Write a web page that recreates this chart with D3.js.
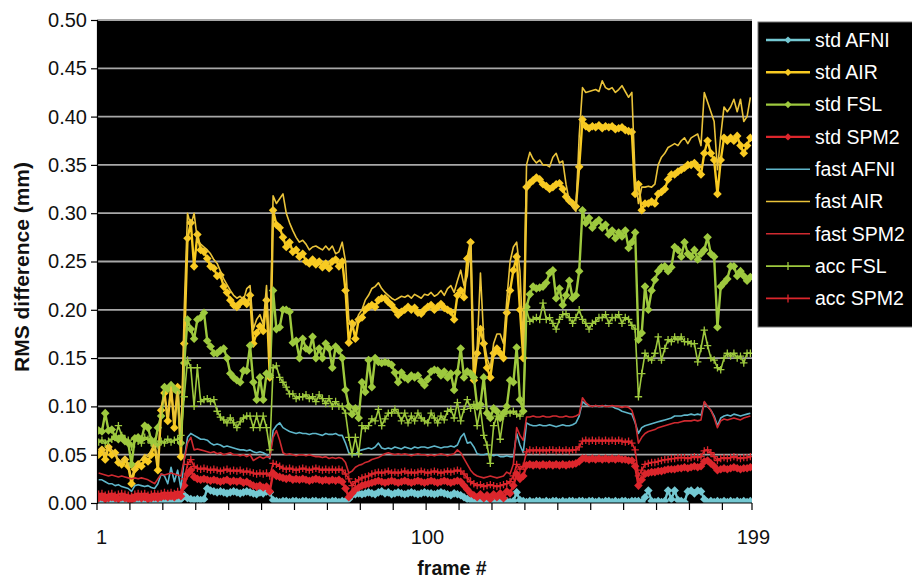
<!DOCTYPE html>
<html>
<head>
<meta charset="utf-8">
<script src="https://cdnjs.cloudflare.com/ajax/libs/d3/7.8.5/d3.min.js"></script>
<style>
  body { margin: 0; background: #fff; }
  svg text { font-family: "Liberation Sans", Arial, Helvetica, sans-serif; }
</style>
</head>
<body>
<svg id="chart" width="912" height="580"></svg>
<script>
// frame numbers 1..199
var frames = d3.range(1, 200)
var yTicks = [0, 0.05, 0.10, 0.15, 0.20, 0.25, 0.30, 0.35, 0.40, 0.45, 0.50]
var xLabels = [1, 100, 199]

var stdAFNI = [
  0.002,0.003,0.002,0.001,0.002,0.003,0.002,0.001,0.002,0.002, 0.001,0.002,0.003,0.002,0.001,0.002,0.002,0.001,0.002,0.003, 0.002,0.002,0.003,0.002,0.002,0.004,0.008,
  0.005,0.004,0.003,0.004,0.003,0.004,0.015,0.013,0.012,0.011, 0.012,0.011,0.010,0.011,0.012,0.011,0.010,0.011,0.012,0.011, 0.010,0.009,0.011,0.010,0.012,0.011,
  0.003,0.002,0.001,0.002,0.002,0.001,0.002,0.002,0.001,0.002, 0.002,0.001,0.002,0.002,0.001,0.002,0.002,0.001,0.002,0.002, 0.001,0.002,0.002,
  0.004,0.008,0.009,0.010,0.009,0.010,0.011,0.010,0.009,0.011, 0.012,0.010,0.011,0.009,0.010,0.011,0.010,0.009,0.010,0.011, 0.010,0.009,0.010,0.011,
  0.010,0.010,0.009,0.010,0.011,0.010,0.009,0.008,0.010,0.009,0.008,0.006,0.004,
  0.003,0.002,0.001,0.002,0.001,0.002,0.001,0.002,0.001,0.002, 0.001,0.002,0.001,0.002,0.011,0.003,0.002,
  0.001,0.002,0.001,0.002,0.002,0.001,0.002,0.001,0.002,0.002, 0.001,0.002,0.001,0.002,0.002,0.001,0.002,
  0.002,0.001,0.002,0.002,0.001,0.002,0.001,0.002,0.002,0.001, 0.002,0.001,0.002,0.002,0.001,0.002,0.002,
  0.002,0.001,0.006,0.013,0.002,0.001,0.002,0.001,0.002,0.013, 0.004,0.013,0.003,0.002,0.001,0.012,0.013,0.010,0.013,0.012, 0.004,0.001,0.002,0.001,0.002,0.001,0.002,0.001,0.002,0.001, 0.002,0.001,0.002,0.001,0.002
]

var stdAIR = [
  0.050,0.055,0.045,0.058,0.050,0.052,0.042,0.040,0.045,0.038, 0.020,0.035,0.040,0.038,0.045,0.043,0.050,0.060,0.034,0.096, 0.114,0.085,0.120,0.078,0.120,0.048,0.165,
  0.274,0.290,0.245,0.278,0.262,0.260,0.253,0.245,0.243,0.235, 0.236,0.224,0.218,0.210,0.205,0.203,0.207,0.210,0.206,0.215, 0.165,0.176,0.183,0.178,0.210,0.130,
  0.303,0.288,0.285,0.275,0.265,0.270,0.260,0.262,0.255,0.258, 0.250,0.248,0.252,0.247,0.250,0.244,0.248,0.243,0.250,0.252, 0.245,0.250,0.220,
  0.166,0.186,0.170,0.190,0.192,0.200,0.203,0.205,0.203,0.210, 0.212,0.212,0.208,0.205,0.200,0.195,0.198,0.200,0.203,0.200, 0.202,0.197,0.196,0.200,
  0.203,0.205,0.200,0.203,0.206,0.202,0.200,0.198,0.190,0.215,0.220,0.213,0.253,
  0.270,0.127,0.155,0.180,0.165,0.140,0.130,0.155,0.160,0.155, 0.150,0.197,0.220,0.241,0.255,0.200,0.150,
  0.327,0.331,0.334,0.337,0.335,0.330,0.328,0.325,0.327,0.330, 0.331,0.325,0.317,0.313,0.310,0.307,0.348,
  0.397,0.390,0.388,0.390,0.389,0.391,0.388,0.390,0.389,0.390, 0.387,0.388,0.389,0.386,0.385,0.384,0.320,
  0.330,0.303,0.310,0.310,0.312,0.310,0.320,0.322,0.325,0.335, 0.340,0.340,0.343,0.345,0.347,0.350,0.350,0.352,0.348,0.340, 0.362,0.375,0.362,0.355,0.320,0.355,0.378,0.375,0.378,0.375, 0.380,0.370,0.362,0.370,0.378
]

var stdFSL = [
  0.075,0.074,0.093,0.075,0.076,0.068,0.066,0.068,0.064,0.062, 0.040,0.067,0.068,0.066,0.080,0.078,0.065,0.060,0.078,0.090, 0.120,0.118,0.122,0.118,0.115,0.062,0.145,
  0.190,0.180,0.170,0.190,0.192,0.197,0.168,0.162,0.155,0.155, 0.158,0.160,0.150,0.134,0.130,0.127,0.125,0.137,0.137,0.163, 0.125,0.107,0.130,0.107,0.134,0.132,
  0.220,0.180,0.182,0.200,0.200,0.198,0.166,0.168,0.150,0.170, 0.160,0.158,0.172,0.150,0.160,0.150,0.165,0.160,0.140,0.162, 0.158,0.150,0.117,
  0.100,0.092,0.098,0.088,0.125,0.115,0.148,0.120,0.150,0.146, 0.145,0.146,0.145,0.143,0.135,0.125,0.135,0.130,0.128,0.132, 0.130,0.132,0.126,0.122,
  0.128,0.136,0.138,0.137,0.132,0.136,0.130,0.134,0.117,0.135,0.160,0.130,0.136,
  0.134,0.130,0.100,0.102,0.130,0.093,0.088,0.098,0.095,0.088, 0.093,0.100,0.127,0.125,0.161,0.107,0.095,
  0.203,0.216,0.224,0.222,0.223,0.224,0.228,0.238,0.241,0.212, 0.222,0.205,0.215,0.230,0.212,0.215,0.240,
  0.303,0.290,0.295,0.285,0.290,0.293,0.285,0.288,0.278,0.282, 0.274,0.280,0.276,0.282,0.264,0.270,0.280,
  0.169,0.176,0.224,0.200,0.220,0.231,0.240,0.244,0.245,0.240, 0.244,0.265,0.262,0.255,0.270,0.258,0.255,0.262,0.252,0.258, 0.262,0.275,0.258,0.255,0.182,0.224,0.228,0.232,0.245,0.245, 0.235,0.240,0.235,0.230,0.234
]

var stdSPM2 = [
  0.005,0.006,0.004,0.005,0.006,0.005,0.004,0.006,0.005,0.004, 0.003,0.005,0.006,0.005,0.006,0.004,0.005,0.006,0.005,0.006, 0.007,0.006,0.007,0.006,0.008,0.007,0.018,
  0.030,0.034,0.027,0.025,0.024,0.025,0.024,0.023,0.024,0.023, 0.022,0.023,0.024,0.022,0.023,0.022,0.023,0.021,0.022,0.020, 0.018,0.017,0.018,0.016,0.017,0.012,
  0.031,0.028,0.027,0.026,0.025,0.026,0.024,0.025,0.024,0.025, 0.024,0.023,0.024,0.025,0.024,0.023,0.024,0.023,0.024,0.023, 0.024,0.022,0.015,
  0.006,0.010,0.014,0.016,0.018,0.019,0.020,0.021,0.022,0.023, 0.022,0.021,0.022,0.023,0.022,0.021,0.022,0.023,0.022,0.021, 0.022,0.023,0.022,0.021,
  0.022,0.023,0.022,0.021,0.022,0.023,0.022,0.021,0.022,0.023,0.022,0.018,0.014,
  0.010,0.008,0.006,0.009,0.005,0.008,0.004,0.009,0.006,0.010, 0.005,0.012,0.010,0.018,0.030,0.025,0.028,
  0.039,0.040,0.039,0.040,0.039,0.040,0.039,0.040,0.039,0.040, 0.039,0.040,0.039,0.040,0.040,0.041,0.043,
  0.046,0.046,0.045,0.046,0.045,0.046,0.045,0.046,0.045,0.046, 0.045,0.046,0.045,0.045,0.044,0.044,0.038,
  0.018,0.024,0.030,0.031,0.032,0.032,0.033,0.033,0.034,0.035, 0.035,0.035,0.036,0.036,0.037,0.036,0.037,0.038,0.037,0.038, 0.043,0.044,0.041,0.038,0.034,0.035,0.036,0.035,0.036,0.037, 0.036,0.035,0.036,0.036,0.037
]

var fastAFNI = [
  0.024,0.024,0.022,0.020,0.020,0.018,0.019,0.017,0.016,0.015, 0.012,0.018,0.019,0.018,0.017,0.018,0.016,0.015,0.020,0.030, 0.028,0.020,0.037,0.022,0.034,0.015,0.045,
  0.068,0.072,0.070,0.068,0.066,0.066,0.065,0.062,0.060,0.061, 0.060,0.058,0.059,0.058,0.057,0.056,0.055,0.055,0.054,0.055, 0.053,0.052,0.053,0.052,0.050,0.046,
  0.075,0.080,0.083,0.078,0.076,0.074,0.073,0.072,0.073,0.072, 0.072,0.071,0.072,0.072,0.071,0.070,0.072,0.071,0.071,0.072, 0.070,0.070,0.062,
  0.052,0.050,0.050,0.054,0.055,0.056,0.057,0.056,0.058,0.062, 0.057,0.056,0.057,0.056,0.058,0.057,0.056,0.058,0.057,0.056, 0.058,0.057,0.058,0.058,
  0.057,0.058,0.059,0.058,0.057,0.058,0.058,0.059,0.058,0.060,0.068,0.072,0.062,
  0.063,0.058,0.051,0.050,0.050,0.051,0.050,0.049,0.050,0.048, 0.048,0.049,0.048,0.048,0.072,0.060,0.052,
  0.083,0.081,0.080,0.080,0.081,0.080,0.080,0.081,0.080,0.079, 0.080,0.081,0.080,0.080,0.081,0.083,0.090,
  0.105,0.102,0.101,0.100,0.101,0.100,0.100,0.101,0.100,0.100, 0.098,0.097,0.095,0.094,0.093,0.092,0.083,
  0.072,0.078,0.080,0.081,0.082,0.083,0.084,0.085,0.086,0.087, 0.088,0.090,0.090,0.090,0.091,0.091,0.092,0.091,0.092,0.091, 0.104,0.100,0.096,0.090,0.080,0.088,0.090,0.091,0.090,0.092, 0.091,0.090,0.091,0.092,0.093
]

var fastAIR = [
  0.055,0.058,0.050,0.060,0.055,0.050,0.045,0.042,0.048,0.040, 0.025,0.038,0.042,0.045,0.050,0.048,0.055,0.062,0.040,0.100, 0.110,0.090,0.120,0.085,0.115,0.060,0.200,
  0.300,0.287,0.300,0.272,0.268,0.265,0.262,0.258,0.252,0.248, 0.240,0.232,0.226,0.220,0.215,0.212,0.214,0.210,0.222,0.225, 0.180,0.190,0.195,0.185,0.225,0.150,
  0.318,0.310,0.315,0.320,0.300,0.290,0.282,0.275,0.270,0.272, 0.268,0.262,0.265,0.266,0.264,0.262,0.266,0.262,0.266,0.258, 0.260,0.270,0.250,
  0.190,0.180,0.185,0.195,0.200,0.210,0.215,0.222,0.224,0.228, 0.222,0.218,0.215,0.212,0.210,0.212,0.214,0.213,0.215,0.212, 0.216,0.214,0.212,0.216,
  0.215,0.218,0.214,0.216,0.220,0.215,0.222,0.225,0.218,0.230,0.241,0.225,0.235,
  0.270,0.140,0.160,0.238,0.170,0.150,0.140,0.165,0.175,0.175, 0.165,0.210,0.250,0.265,0.270,0.240,0.160,
  0.350,0.363,0.356,0.352,0.355,0.350,0.350,0.348,0.358,0.362, 0.352,0.354,0.330,0.312,0.306,0.302,0.380,
  0.430,0.425,0.426,0.427,0.428,0.426,0.437,0.430,0.428,0.430, 0.425,0.428,0.432,0.426,0.420,0.425,0.337,
  0.310,0.327,0.327,0.328,0.327,0.330,0.350,0.358,0.362,0.368, 0.370,0.372,0.370,0.375,0.378,0.372,0.378,0.380,0.382,0.370, 0.425,0.415,0.405,0.395,0.345,0.380,0.410,0.405,0.410,0.418, 0.405,0.418,0.395,0.400,0.420
]

var fastSPM2 = [
  0.031,0.030,0.029,0.028,0.029,0.028,0.027,0.028,0.027,0.026, 0.025,0.026,0.025,0.026,0.025,0.024,0.022,0.020,0.025,0.030, 0.029,0.030,0.031,0.030,0.029,0.028,0.045,
  0.062,0.068,0.055,0.056,0.055,0.054,0.053,0.052,0.053,0.051, 0.052,0.050,0.051,0.052,0.050,0.050,0.049,0.050,0.048,0.050, 0.044,0.046,0.048,0.046,0.048,0.047,
  0.068,0.075,0.065,0.052,0.050,0.051,0.050,0.049,0.050,0.050, 0.049,0.050,0.049,0.048,0.048,0.047,0.048,0.046,0.047,0.046, 0.047,0.046,0.042,
  0.031,0.033,0.037,0.039,0.040,0.042,0.043,0.045,0.046,0.047, 0.049,0.051,0.052,0.051,0.050,0.051,0.050,0.051,0.050,0.049, 0.050,0.051,0.050,0.050,
  0.049,0.050,0.049,0.050,0.051,0.050,0.049,0.050,0.051,0.055,0.052,0.046,0.040,
  0.034,0.030,0.028,0.027,0.026,0.027,0.028,0.027,0.026,0.027, 0.028,0.032,0.030,0.040,0.078,0.070,0.065,
  0.089,0.089,0.090,0.089,0.089,0.090,0.089,0.089,0.090,0.090, 0.089,0.089,0.090,0.089,0.089,0.090,0.092,
  0.109,0.104,0.101,0.100,0.101,0.100,0.101,0.100,0.100,0.101, 0.100,0.100,0.099,0.100,0.099,0.096,0.085,
  0.062,0.068,0.072,0.074,0.075,0.076,0.078,0.079,0.080,0.081, 0.082,0.083,0.083,0.084,0.085,0.085,0.085,0.086,0.085,0.086, 0.105,0.100,0.096,0.088,0.078,0.085,0.087,0.086,0.087,0.088, 0.087,0.086,0.088,0.089,0.090
]

var accFSL = [
  0.063,0.065,0.062,0.064,0.066,0.068,0.080,0.070,0.066,0.065, 0.058,0.066,0.064,0.062,0.068,0.066,0.062,0.064,0.060,0.064, 0.062,0.066,0.063,0.065,0.066,0.070,0.110,
  0.148,0.140,0.100,0.140,0.105,0.107,0.108,0.105,0.107,0.095, 0.089,0.086,0.083,0.088,0.083,0.078,0.084,0.088,0.090,0.090, 0.078,0.090,0.078,0.090,0.078,0.055,
  0.140,0.142,0.130,0.125,0.120,0.113,0.113,0.108,0.110,0.110, 0.112,0.108,0.110,0.105,0.112,0.108,0.103,0.108,0.100,0.105, 0.100,0.100,0.093,
  0.068,0.051,0.068,0.051,0.080,0.077,0.080,0.087,0.085,0.097, 0.080,0.087,0.093,0.093,0.097,0.093,0.085,0.093,0.083,0.090, 0.085,0.093,0.088,0.085,
  0.083,0.093,0.088,0.083,0.090,0.086,0.095,0.097,0.088,0.104,0.085,0.097,0.107,
  0.098,0.102,0.080,0.098,0.070,0.060,0.041,0.080,0.090,0.066, 0.090,0.095,0.093,0.095,0.092,0.090,0.095,
  0.200,0.188,0.190,0.192,0.190,0.207,0.190,0.192,0.186,0.180, 0.190,0.195,0.196,0.192,0.186,0.192,0.200,
  0.190,0.186,0.180,0.186,0.188,0.192,0.192,0.195,0.186,0.192, 0.192,0.195,0.186,0.192,0.190,0.184,0.180,
  0.110,0.134,0.155,0.150,0.148,0.155,0.172,0.148,0.160,0.169, 0.167,0.172,0.169,0.172,0.167,0.167,0.165,0.165,0.146,0.160, 0.179,0.163,0.150,0.148,0.140,0.138,0.150,0.155,0.152,0.155, 0.150,0.152,0.145,0.155,0.155
]

var accSPM2 = [
  0.009,0.010,0.008,0.009,0.010,0.008,0.009,0.010,0.009,0.008, 0.007,0.009,0.010,0.009,0.010,0.008,0.009,0.010,0.009,0.010, 0.011,0.010,0.011,0.010,0.012,0.011,0.025,
  0.040,0.045,0.038,0.036,0.035,0.036,0.035,0.034,0.035,0.034, 0.033,0.034,0.035,0.033,0.034,0.033,0.034,0.032,0.033,0.032, 0.031,0.030,0.031,0.030,0.031,0.028,
  0.041,0.040,0.038,0.036,0.035,0.036,0.035,0.034,0.035,0.036, 0.035,0.034,0.035,0.036,0.035,0.034,0.035,0.034,0.035,0.034, 0.035,0.034,0.030,
  0.025,0.018,0.022,0.024,0.026,0.027,0.028,0.030,0.031,0.032, 0.031,0.032,0.033,0.031,0.032,0.031,0.032,0.033,0.031,0.032, 0.031,0.032,0.033,0.032,
  0.031,0.032,0.033,0.032,0.031,0.032,0.033,0.032,0.033,0.034,0.033,0.030,0.026,
  0.022,0.020,0.018,0.019,0.017,0.018,0.019,0.018,0.017,0.018, 0.019,0.020,0.022,0.028,0.040,0.035,0.038,
  0.053,0.055,0.054,0.055,0.054,0.055,0.054,0.055,0.055,0.054, 0.055,0.054,0.055,0.054,0.055,0.055,0.058,
  0.064,0.065,0.064,0.065,0.064,0.065,0.064,0.065,0.064,0.065, 0.064,0.065,0.064,0.063,0.064,0.062,0.055,
  0.028,0.034,0.040,0.041,0.042,0.042,0.043,0.044,0.045,0.045, 0.046,0.046,0.047,0.047,0.047,0.046,0.047,0.048,0.047,0.048, 0.054,0.055,0.052,0.048,0.044,0.046,0.047,0.046,0.047,0.048, 0.047,0.046,0.047,0.047,0.048
]

var seriesNames = ["std AFNI", "std AIR", "std FSL", "std SPM2", "fast AFNI", "fast AIR", "fast SPM2", "acc FSL", "acc SPM2"]
var seriesValues = [stdAFNI, stdAIR, stdFSL, stdSPM2, fastAFNI, fastAIR, fastSPM2, accFSL, accSPM2]

// look of each series: colour, line width, marker kind
var styles = {
  "std AFNI":  { color: "#74c8d2", width: 2.4, marker: "diamond" },
  "std AIR":   { color: "#f8ca22", width: 2.4, marker: "diamond" },
  "std FSL":   { color: "#9ec93e", width: 2.4, marker: "diamond" },
  "std SPM2":  { color: "#dc262c", width: 2.4, marker: "diamond" },
  "fast AFNI": { color: "#5fb6ca", width: 1.6, marker: null },
  "fast AIR":  { color: "#eac33a", width: 1.6, marker: null },
  "fast SPM2": { color: "#cf2a30", width: 1.6, marker: null },
  "acc FSL":   { color: "#9ec93e", width: 1.6, marker: "plus" },
  "acc SPM2":  { color: "#dc262c", width: 1.6, marker: "plus" }
}

var margin = { top: 20, right: 160, bottom: 77, left: 97 },
    W = 912, H = 580,
    width = W - margin.left - margin.right,
    height = H - margin.top - margin.bottom

var svg = d3.select("#chart")

var x = d3.scaleLinear().domain([0.5, 199.5]).range([margin.left, margin.left + width])
var y = d3.scaleLinear().domain([0, 0.5]).range([margin.top + height, margin.top])

svg.append("rect")
  .attr("x", margin.left).attr("y", margin.top)
  .attr("width", width).attr("height", height)
  .attr("fill", "#000")

svg.append("defs").append("clipPath").attr("id", "plotclip")
  .append("rect")
  .attr("x", margin.left).attr("y", margin.top - 4)
  .attr("width", width).attr("height", height + 4)

// gridlines
svg.append("g").selectAll("line")
  .data(yTicks.filter(d => d > 0))
  .join("line")
  .attr("x1", margin.left).attr("x2", margin.left + width)
  .attr("y1", d => y(d)).attr("y2", d => y(d))
  .attr("stroke", "#a8a8a8").attr("stroke-width", 1.8)

var plot = svg.append("g").attr("clip-path", "url(#plotclip)")

var line = d3.line()
  .x((d, i) => x(frames[i]))
  .y(d => y(d))

function diamondPath(s) {
  return "M0," + (-s) + "L" + s + ",0L0," + s + "L" + (-s) + ",0Z"
}
function plusPath(s) {
  return "M" + (-s) + ",0H" + s + "M0," + (-s) + "V" + s
}

seriesNames.forEach((name, k) => {
  var st = styles[name]
  var vals = seriesValues[k]
  var g = plot.append("g")
  g.append("path")
    .datum(vals)
    .attr("fill", "none")
    .attr("stroke", st.color)
    .attr("stroke-width", st.width)
    .attr("stroke-linejoin", "round")
    .attr("d", line)
  if (st.marker == "diamond") {
    g.selectAll("path.mk").data(vals).join("path")
      .attr("class", "mk")
      .attr("transform", (d, i) => "translate(" + x(frames[i]) + "," + y(d) + ")")
      .attr("d", diamondPath(4.3))
      .attr("fill", st.color)
  } else if (st.marker == "plus") {
    g.selectAll("path.mk").data(vals).join("path")
      .attr("class", "mk")
      .attr("transform", (d, i) => "translate(" + x(frames[i]) + "," + y(d) + ")")
      .attr("d", plusPath(3.7))
      .attr("stroke", st.color)
      .attr("stroke-width", 1.3)
      .attr("fill", "none")
  }
})

// y axis
var yAxis = d3.axisLeft(y)
  .tickValues(yTicks)
  .tickFormat(d3.format(".2f"))
  .tickSize(6)
  .tickPadding(4)

var yg = svg.append("g")
  .attr("transform", "translate(" + margin.left + ",0)")
  .call(yAxis)
yg.select(".domain").attr("stroke", "#000").attr("stroke-width", 1.2)
yg.selectAll(".tick line").attr("stroke", "#000").attr("stroke-width", 1.2)
yg.selectAll(".tick text")
  .attr("fill", "#111")
  .style("font-size", "20px")

// x axis: tick marks every 10 frames, labels at 1, 100, 199
var xBase = margin.top + height
var xTickPos = d3.range(0, 200, 10).map(d => d + 0.5).concat([199.5])
var xg = svg.append("g")
xg.append("line")
  .attr("x1", margin.left).attr("x2", margin.left + width)
  .attr("y1", xBase).attr("y2", xBase)
  .attr("stroke", "#000").attr("stroke-width", 1.2)
xg.selectAll("line.tk").data(xTickPos).join("line")
  .attr("class", "tk")
  .attr("x1", d => x(d)).attr("x2", d => x(d))
  .attr("y1", xBase).attr("y2", xBase + 7)
  .attr("stroke", "#000").attr("stroke-width", 1.2)
xg.selectAll("text").data(xLabels).join("text")
  .attr("x", d => x(d) + 3)
  .attr("y", xBase + 41)
  .attr("text-anchor", "middle")
  .attr("fill", "#111")
  .style("font-size", "20px")
  .text(d => d)

// axis titles
svg.append("text")
  .attr("x", 452).attr("y", 575)
  .attr("text-anchor", "middle")
  .style("font-size", "19.5px").style("font-weight", "bold")
  .attr("fill", "#111")
  .text("frame #")

svg.append("text")
  .attr("transform", "translate(29,267) rotate(-90)")
  .attr("text-anchor", "middle")
  .style("font-size", "21px").style("font-weight", "bold")
  .attr("fill", "#111")
  .text("RMS difference (mm)")

// legend
var lg = svg.append("g")
lg.append("rect")
  .attr("x", 758).attr("y", 22)
  .attr("width", 170).attr("height", 305)
  .attr("fill", "#000")
  .attr("stroke", "#777").attr("stroke-width", 1)

seriesNames.forEach((name, k) => {
  var st = styles[name]
  var ly = 40 + k * 32.3
  var row = lg.append("g").attr("transform", "translate(0," + ly + ")")
  row.append("line")
    .attr("x1", 766).attr("x2", 810)
    .attr("y1", 0).attr("y2", 0)
    .attr("stroke", st.color).attr("stroke-width", st.width)
  if (st.marker == "diamond") {
    row.append("path").attr("transform", "translate(788,0)")
      .attr("d", diamondPath(3.6)).attr("fill", st.color)
  } else if (st.marker == "plus") {
    row.append("path").attr("transform", "translate(788,0)")
      .attr("d", "M0,-4V4").attr("stroke", st.color).attr("stroke-width", 1.3)
  }
  row.append("text")
    .attr("x", 815).attr("y", 0)
    .attr("dy", "0.35em")
    .attr("fill", "#fff")
    .style("font-size", "19.5px")
    .text(name)
})
</script>
</body>
</html>
